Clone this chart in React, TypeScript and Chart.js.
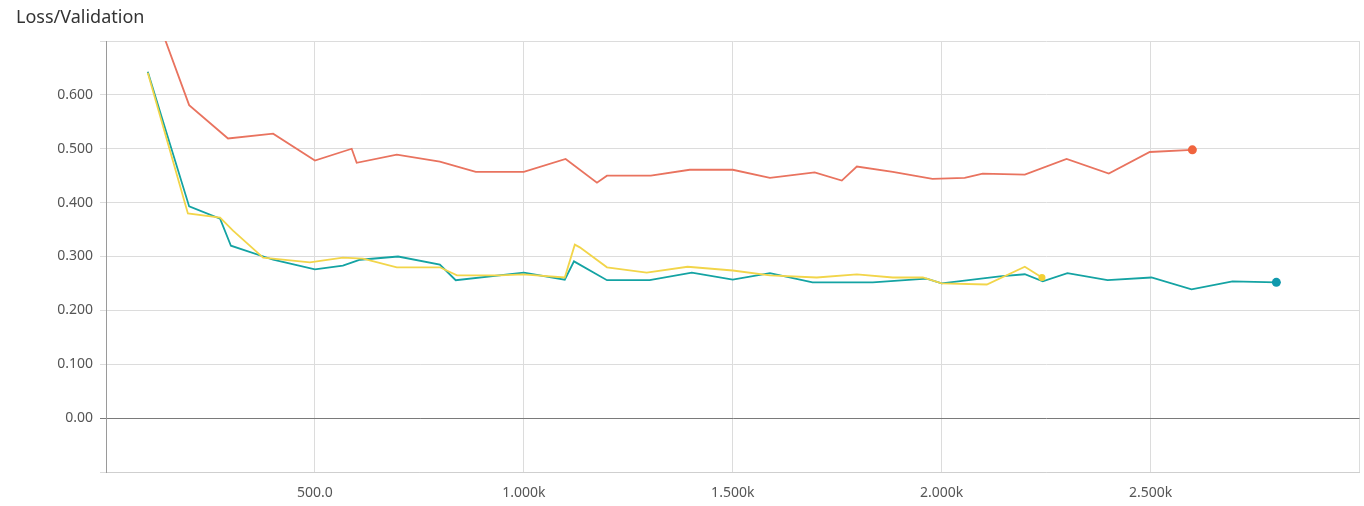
import React, { useEffect, useRef } from "react";
import { Chart, registerables } from "chart.js";

Chart.register(...registerables);

const TITLE = "Loss/Validation";

const redSteps = [100, 199, 292, 400, 500, 588, 600, 696, 799, 885, 1000, 1100, 1175, 1199, 1304, 1397, 1500, 1589, 1696, 1761, 1797, 1883, 1978, 2055, 2098, 2199, 2299, 2400, 2498, 2600];
const redValues = [0.79, 0.581, 0.519, 0.528, 0.478, 0.5, 0.474, 0.489, 0.476, 0.457, 0.457, 0.481, 0.437, 0.45, 0.45, 0.461, 0.461, 0.446, 0.456, 0.441, 0.467, 0.457, 0.444, 0.446, 0.454, 0.452, 0.481, 0.454, 0.494, 0.498];

const tealSteps = [100, 199, 273, 299, 400, 500, 567, 608, 699, 799, 837, 1000, 1098, 1120, 1199, 1301, 1402, 1500, 1589, 1691, 1835, 1964, 2000, 2139, 2199, 2242, 2301, 2397, 2502, 2598, 2696, 2801];
const tealValues = [0.643, 0.393, 0.37, 0.32, 0.294, 0.276, 0.283, 0.294, 0.3, 0.285, 0.256, 0.27, 0.257, 0.291, 0.256, 0.256, 0.27, 0.257, 0.269, 0.252, 0.252, 0.259, 0.25, 0.263, 0.267, 0.254, 0.269, 0.256, 0.261, 0.239, 0.254, 0.252];

const yellowSteps = [100, 196, 273, 304, 376, 488, 567, 615, 696, 799, 840, 943, 998, 1098, 1122, 1134, 1199, 1294, 1392, 1500, 1589, 1701, 1797, 1883, 1955, 2000, 2108, 2199, 2240];
const yellowValues = [0.641, 0.38, 0.372, 0.348, 0.298, 0.289, 0.298, 0.296, 0.28, 0.28, 0.265, 0.265, 0.267, 0.261, 0.322, 0.317, 0.28, 0.27, 0.281, 0.274, 0.265, 0.261, 0.267, 0.261, 0.261, 0.25, 0.248, 0.281, 0.261];

const xTickValues = [0, 500, 1000, 1500, 2000, 2500, 3000];
const yTickValues = [-0.1, 0, 0.1, 0.2, 0.3, 0.4, 0.5, 0.6, 0.7];

const toPoints = (xs: number[], ys: number[]) => xs.map((x, i) => ({ x, y: ys[i] }));

const FONT = "'Noto Sans', 'Open Sans', sans-serif";

export default function App() {
  const ref = useRef<HTMLCanvasElement | null>(null);

  useEffect(() => {
    if (!ref.current) return;
    const lastRadius = (r: number) => (ctx: any) =>
      ctx.dataIndex === ctx.dataset.data.length - 1 ? r : 0;
    const chart = new Chart(ref.current, {
      type: "line",
      data: {
        datasets: [
          {
            label: "red",
            data: toPoints(redSteps, redValues),
            borderColor: "#e9735f",
            backgroundColor: "#f0643e",
            borderWidth: 1.8,
            pointRadius: lastRadius(4.5),
            pointBorderWidth: 0,
            tension: 0,
          },
          {
            label: "yellow",
            data: toPoints(yellowSteps, yellowValues),
            borderColor: "#f2d54a",
            backgroundColor: "#f2d035",
            borderWidth: 1.8,
            pointRadius: lastRadius(3.5),
            pointBorderWidth: 0,
            tension: 0,
          },
          {
            label: "teal",
            data: toPoints(tealSteps, tealValues),
            borderColor: "#14a3a3",
            backgroundColor: "#1099ad",
            borderWidth: 1.8,
            pointRadius: lastRadius(4.5),
            pointBorderWidth: 0,
            tension: 0,
          },
        ],
      },
      options: {
        animation: false,
        responsive: false,
        devicePixelRatio: 1,
        layout: { padding: { top: 41, right: 4, left: 0, bottom: 0 } },
        plugins: { legend: { display: false }, tooltip: { enabled: false }, title: { display: false } },
        scales: {
          x: {
            type: "linear",
            min: 0,
            max: 3000,
            afterFit: (s: any) => {
              s.height = 34;
              s.paddingRight = 0;
              s.paddingLeft = 0;
            },
            afterBuildTicks: (s: any) => {
              s.ticks = xTickValues.map((v) => ({ value: v }));
            },
            ticks: {
              padding: 13,
              maxRotation: 0,
              autoSkip: false,
              color: "#555",
              font: { family: FONT, size: 14 },
              callback: (v: any) => {
                const n = Number(v);
                if (n === 0 || n === 3000) return "";
                if (n < 1000) return n.toFixed(1);
                return (n / 1000).toFixed(3) + "k";
              },
            },
            grid: { color: "#dcdcdc", lineWidth: 1, tickLength: 0 },
            border: { color: "#cfcfcf", width: 1 },
          },
          y: {
            type: "linear",
            min: -0.1,
            max: 0.7,
            afterFit: (s: any) => {
              s.width = 106;
            },
            afterBuildTicks: (s: any) => {
              s.ticks = yTickValues.map((v) => ({ value: v }));
            },
            ticks: {
              padding: 7,
              autoSkip: false,
              color: "#555",
              font: { family: FONT, size: 14 },
              callback: (v: any) => {
                const n = Math.round(Number(v) * 1000) / 1000;
                if (n < 0 || n >= 0.7) return "";
                if (n === 0) return "0.00";
                return n.toFixed(3);
              },
            },
            grid: {
              color: (c: any) => (c.tick && Math.abs(c.tick.value) < 1e-9 ? "#7a7a7a" : "#dcdcdc"),
              lineWidth: 1,
              tickLength: 6,
            },
            border: { color: "#9a9a9a", width: 1 },
          },
        },
      },
    } as any);
    return () => chart.destroy();
  }, []);

  return (
    <div style={{ position: "absolute", left: 0, top: 0, width: 1364, height: 506, background: "#fff" }}>
      <div
        style={{
          position: "absolute",
          left: 16,
          top: 4,
          fontFamily: FONT,
          fontSize: 18,
          lineHeight: "24px",
          color: "#333",
        }}
      >
        {TITLE}
      </div>
      <canvas ref={ref} width={1364} height={506} style={{ display: "block", width: 1364, height: 506 }} />
    </div>
  );
}
